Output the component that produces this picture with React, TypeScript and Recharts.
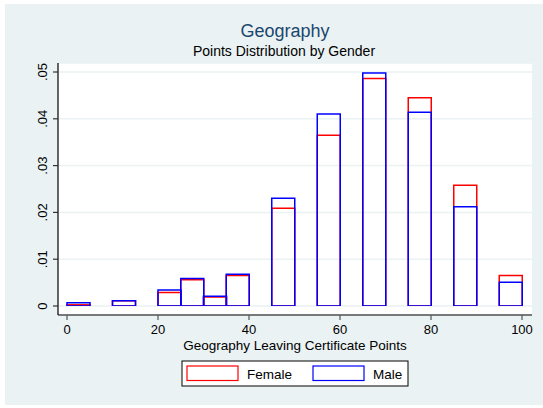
import React from 'react';
import { ComposedChart, Bar, XAxis, YAxis, CartesianGrid } from 'recharts';

// 5-point bins of Leaving Certificate points (lower bound of each bin)
const binStart = [0, 5, 10, 15, 20, 25, 30, 35, 40, 45, 50, 55, 60, 65, 70, 75, 80, 85, 90, 95];
const female = [
  0.00025, null, 0.0011, null, 0.0029, 0.0056, 0.0019, 0.0065, null, 0.0209,
  null, 0.0365, null, 0.0486, null, 0.0445, null, 0.0258, null, 0.0065,
];
const male = [
  0.0007, null, 0.0011, null, 0.0034, 0.0059, 0.0021, 0.0068, null, 0.023,
  null, 0.041, null, 0.0498, null, 0.0414, null, 0.0212, null, 0.0051,
];
const xTicks = [0, 20, 40, 60, 80, 100];
const yTicks = [0, 0.01, 0.02, 0.03, 0.04, 0.05];

const data = binStart.map((start, i) => ({
  bin: `${start}-${start + 5}`,
  start,
  female: female[i],
  male: male[i],
}));

const FONT = '"Liberation Sans", Arial, sans-serif';
const BG = '#EAF2F3';

const fmtY = (v: number) => (v === 0 ? '0' : v.toFixed(2).replace(/^0/, ''));

const YTick = (props: any) => {
  const { x, y, payload } = props;
  return (
    <text
      x={x}
      y={y}
      transform={`rotate(-90 ${x} ${y})`}
      textAnchor="middle"
      fontSize={13}
      fontFamily={FONT}
      fill="#000"
    >
      {fmtY(payload.value)}
    </text>
  );
};

const pad = { left: 9, right: 10 };

export default function App() {
  return (
    <div style={{ position: 'absolute', left: 0, top: 0, width: 543, height: 408, background: '#fff' }}>
      <div style={{ position: 'absolute', left: 5, top: 4, width: 538, height: 401, background: BG }} />
      <div style={{ position: 'absolute', left: 0, top: 0 }}>
        <ComposedChart
          width={543}
          height={408}
          data={data}
          margin={{ top: 63, right: 11, left: 0, bottom: 58 }}
          barCategoryGap={0}
          barGap={0}
        >
          <CartesianGrid xAxisId="num" vertical={false} fill="#fff" stroke={BG} strokeWidth={1.5} />
          <XAxis xAxisId="f" dataKey="bin" hide height={0} padding={pad} />
          <XAxis xAxisId="m" dataKey="bin" hide height={0} padding={pad} />
          <XAxis
            xAxisId="num"
            dataKey="start"
            type="number"
            domain={[0, 100]}
            allowDataOverflow
            ticks={xTicks}
            interval={0}
            padding={pad}
            height={35}
            tickSize={5}
            tickMargin={5}
            axisLine={{ stroke: '#000', strokeWidth: 1.2 }}
            tickLine={{ stroke: '#555', strokeWidth: 1.2 }}
            tick={{ fontSize: 13, fill: '#000', fontFamily: FONT }}
            label={{
              value: 'Geography Leaving Certificate Points',
              position: 'insideBottom',
              offset: 0,
              fontSize: 13.5,
              fill: '#000',
              fontFamily: FONT,
            }}
          />
          <YAxis
            width={58}
            domain={[0, 0.05]}
            ticks={yTicks}
            padding={{ top: 9, bottom: 9 }}
            allowDataOverflow
            tickSize={5}
            tickMargin={6}
            axisLine={{ stroke: '#000', strokeWidth: 1.2 }}
            tickLine={{ stroke: '#333', strokeWidth: 1.2 }}
            tick={<YTick />}
          />
          <Bar xAxisId="f" dataKey="female" fill="none" stroke="#FF0000" strokeWidth={1.5} isAnimationActive={false} />
          <Bar xAxisId="m" dataKey="male" fill="none" stroke="#0000FF" strokeWidth={1.5} isAnimationActive={false} />
        </ComposedChart>
      </div>
      <svg
        width={543}
        height={408}
        style={{ position: 'absolute', left: 0, top: 0, pointerEvents: 'none' }}
        fontFamily={FONT}
      >
        <text x={285} y={37} textAnchor="middle" fontSize={18} fill="#1A476F">
          Geography
        </text>
        <text x={284} y={56} textAnchor="middle" fontSize={14} fill="#000">
          Points Distribution by Gender
        </text>
        <rect x={182} y={361} width={226} height={25} fill="#fff" stroke="#000" strokeWidth={1} />
        <rect x={187} y={366} width={51} height={14.5} fill="#fff" stroke="#FF0000" strokeWidth={1.2} />
        <text x={247} y={379} fontSize={13.5} fill="#000">
          Female
        </text>
        <rect x={313} y={366} width={51} height={14.5} fill="#fff" stroke="#0000FF" strokeWidth={1.2} />
        <text x={373} y={379} fontSize={13.5} fill="#000">
          Male
        </text>
      </svg>
    </div>
  );
}
